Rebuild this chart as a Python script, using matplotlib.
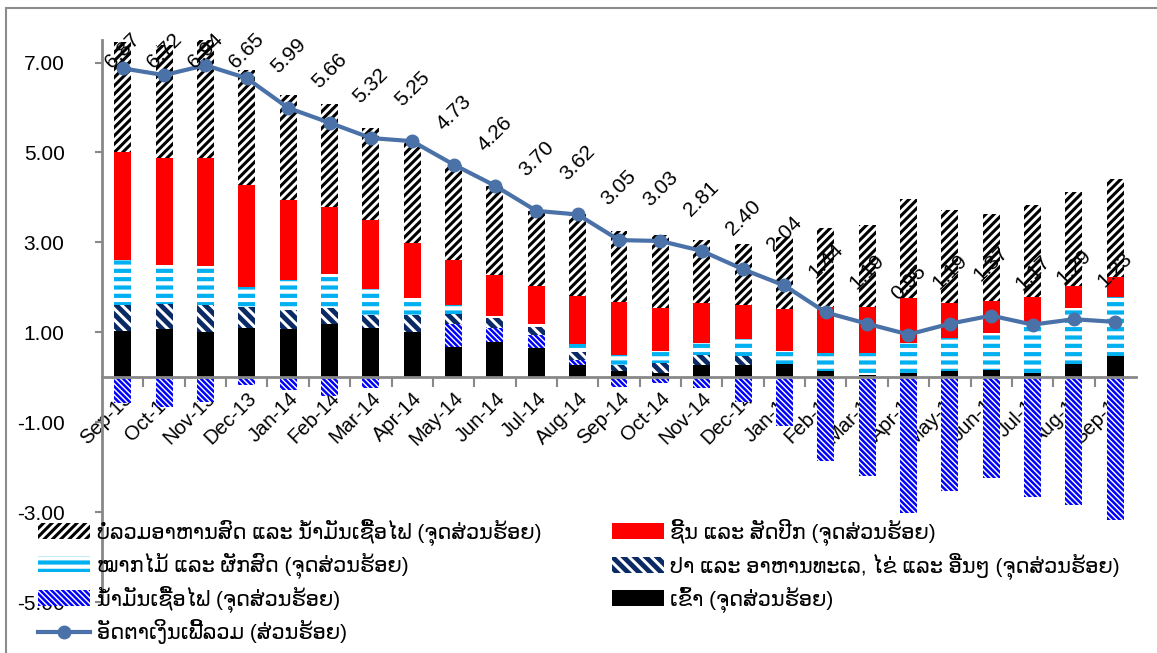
import numpy as np
import matplotlib
matplotlib.use("Agg")
import matplotlib.pyplot as plt
import matplotlib.transforms as mtransforms
from matplotlib.patches import Rectangle
from matplotlib.ticker import FormatStrFormatter, FixedLocator

plt.rcParams['font.family'] = ['Liberation Sans', 'DejaVu Sans']

# months
months = ['Sep-13', 'Oct-13', 'Nov-13', 'Dec-13', 'Jan-14', 'Feb-14', 'Mar-14',
          'Apr-14', 'May-14', 'Jun-14', 'Jul-14', 'Aug-14', 'Sep-14', 'Oct-14',
          'Nov-14', 'Dec-14', 'Jan-15', 'Feb-15', 'Mar-15', 'Apr-15', 'May-15',
          'Jun-15', 'Jul-15', 'Aug-15', 'Sep-15']

# contributions (percentage points)
rice = [1.02, 1.07, 1.01, 1.10, 1.07, 1.19, 1.10, 1.01, 0.67, 0.79, 0.65, 0.28, 0.14,
        0.10, 0.28, 0.27, 0.29, 0.14, 0.06, 0.10, 0.14, 0.17, 0.10, 0.30, 0.47]
fuel = [-0.58, -0.66, -0.56, -0.18, -0.29, -0.41, -0.23, 0.00, 0.52, 0.30, 0.28, 0.10, -0.21,
        -0.13, -0.24, -0.56, -1.08, -1.87, -2.20, -3.01, -2.53, -2.25, -2.66, -2.84, -3.18]
fish = [0.58, 0.55, 0.59, 0.46, 0.43, 0.36, 0.28, 0.37, 0.21, 0.22, 0.19, 0.19, 0.13,
        0.22, 0.21, 0.20, 0.00, 0.00, 0.00, 0.00, 0.00, 0.00, 0.00, 0.00, 0.00]
fruit = [1.00, 0.87, 0.87, 0.45, 0.67, 0.75, 0.59, 0.38, 0.20, 0.06, 0.07, 0.17, 0.22,
         0.27, 0.26, 0.37, 0.30, 0.39, 0.47, 0.65, 0.74, 0.82, 1.08, 1.23, 1.32]
meat = [2.42, 2.39, 2.41, 2.26, 1.78, 1.49, 1.52, 1.23, 1.00, 0.91, 0.84, 1.06, 1.18,
        0.96, 0.91, 0.76, 0.92, 1.03, 1.03, 1.01, 0.76, 0.70, 0.61, 0.49, 0.44]
core = [2.43, 2.50, 2.61, 2.56, 2.33, 2.28, 2.06, 2.26, 2.13, 1.98, 1.67, 1.82, 1.59,
        1.61, 1.39, 1.36, 1.61, 1.75, 1.83, 2.20, 2.08, 1.93, 2.04, 2.11, 2.18]
inflation = [6.87, 6.72, 6.94, 6.65, 5.99, 5.66, 5.32, 5.25, 4.73, 4.26, 3.70, 3.62, 3.05,
             3.03, 2.81, 2.40, 2.04, 1.44, 1.19, 0.95, 1.19, 1.37, 1.17, 1.29, 1.23]

lbl_core = 'ບໍ່ລວມອາຫານສົດ ແລະ ນ້ຳມັນເຊື້ອໄຟ (ຈຸດສ່ວນຮ້ອຍ)'
lbl_meat = 'ຊີ້ນ ແລະ ສັດປີກ (ຈຸດສ່ວນຮ້ອຍ)'
lbl_fruit = 'ໝາກໄມ້ ແລະ ຜັກສົດ (ຈຸດສ່ວນຮ້ອຍ)'
lbl_fish = 'ປາ ແລະ ອາຫານທະເລ, ໄຂ່ ແລະ ອື່ນໆ (ຈຸດສ່ວນຮ້ອຍ)'
lbl_fuel = 'ນ້ຳມັນເຊື້ອໄຟ (ຈຸດສ່ວນຮ້ອຍ)'
lbl_rice = 'ເຂົ້າ (ຈຸດສ່ວນຮ້ອຍ)'
lbl_line = 'ອັດຕາເງິນເຟີ້ລວມ (ສ່ວນຮ້ອຍ)'

fig = plt.figure(figsize=(11.57, 6.53), dpi=100)
ax = fig.add_axes([0.0882, 0.0781, 0.8936, 0.8606])
x = np.arange(len(months))
w = 0.41

pos = np.zeros(len(x))
neg = np.zeros(len(x))
bars = {}
hatch_lw = {}
# stacking order bottom -> top
series = [
    ('rice', rice, lbl_rice, dict(color='black'), None),
    ('fuel', fuel, lbl_fuel, dict(facecolor='white', edgecolor='#0000ff', hatch='\\' * 6), 1.8),
    ('fish', fish, lbl_fish, dict(facecolor='white', edgecolor='#0a2a66', hatch='\\' * 3), 3.5),
    ('fruit', fruit, lbl_fruit, dict(facecolor='white', edgecolor='#00b0f0', hatch='--'), 3.0),
    ('meat', meat, lbl_meat, dict(color='#ff0000'), None),
    ('core', core, lbl_core, dict(facecolor='white', edgecolor='black', hatch='/' * 4), 2.2),
]
for key, vals, lbl, style, hlw in series:
    v = np.array(vals)
    bottom = np.where(v >= 0, pos, neg)
    if hlw is not None:
        plt.rcParams['hatch.linewidth'] = hlw
    b = ax.bar(x, v, w, bottom=bottom, label=lbl, linewidth=0, zorder=2, **style)
    if hlw is not None:
        for p in b:
            if hasattr(p, 'set_hatch_linewidth'):
                p.set_hatch_linewidth(hlw)
    bars[key] = b
    hatch_lw[key] = hlw
    pos = pos + np.where(v >= 0, v, 0)
    neg = neg + np.where(v < 0, v, 0)

line, = ax.plot(x, inflation, color='#4a72a8', lw=3, marker='o', ms=9,
                label=lbl_line, zorder=4)

for i, v in enumerate(inflation):
    ax.text(i, min(v + 1.155, 7.27), f'{v:.2f}', rotation=45, rotation_mode='anchor',
            ha='center', va='center', fontsize=15, zorder=5)

ax.set_xlim(-0.5, len(x) - 0.5)
ax.set_ylim(-5, 7.5)
ax.set_yticks(np.arange(-5, 8, 2))
ax.yaxis.set_major_formatter(FormatStrFormatter('%.2f'))
ax.tick_params(axis='y', labelsize=15, length=5, width=1.5, color='#888888', pad=22)

ax.spines['bottom'].set_position(('data', 0))
ax.spines['top'].set_visible(False)
ax.spines['right'].set_visible(False)
for s in ['left', 'bottom']:
    ax.spines[s].set_color('#888888')
    ax.spines[s].set_linewidth(2)
ax.spines['bottom'].set_zorder(3)

ax.set_xticks(x)
ax.set_xticklabels(months, rotation=45, ha='right', va='center', rotation_mode='anchor')
ax.tick_params(axis='x', which='major', length=0, labelsize=14.5, pad=13)
shift = mtransforms.ScaledTranslation(5 / 72, 0, fig.dpi_scale_trans)
for t in ax.get_xticklabels():
    t.set_transform(t.get_transform() + shift)
ax.xaxis.set_minor_locator(FixedLocator(np.arange(0.5, len(x) - 0.5, 1)))
ax.tick_params(axis='x', which='minor', length=7, width=1.5, color='#888888', direction='out')

keys = ['core', 'fruit', 'fuel', None, 'meat', 'fish', 'rice']
handles = [bars[k] if k else line for k in keys]
leg = fig.legend(handles=handles, labels=[h.get_label() for h in handles], ncol=2,
                 loc='upper left', bbox_to_anchor=(0.033, 0.206), frameon=False,
                 fontsize=15, handlelength=2.5, handleheight=0.8, handletextpad=0.3,
                 labelspacing=0.33, columnspacing=3.4, borderpad=0, borderaxespad=0)
patch_keys = [k for k in keys if k]
for k, p in zip(patch_keys, leg.get_patches()):
    if hatch_lw[k] is not None and hasattr(p, 'set_hatch_linewidth'):
        p.set_hatch_linewidth(hatch_lw[k])

fig.patches.append(Rectangle((6 / 1157, -0.1), 1.2, 1 - 8 / 653 + 0.1, transform=fig.transFigure,
                             fill=False, edgecolor='#8c8c8c', linewidth=1.5))

fig.savefig('out.png', dpi=100)
